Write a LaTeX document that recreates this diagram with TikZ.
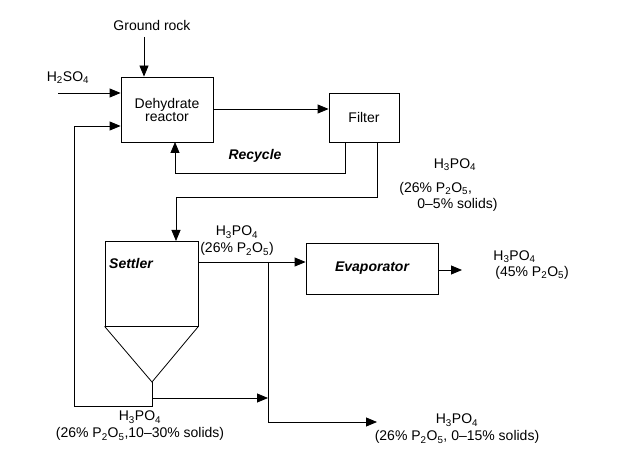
\documentclass[tikz,border=0pt]{standalone}
\usepackage{fontspec}
\setmainfont{Liberation Sans}
\usetikzlibrary{arrows.meta}
\begin{document}
\begin{tikzpicture}[x=1pt,y=-1pt,
    font=\fontsize{14}{13}\selectfont,
    line width=0.8pt,
    flow/.style={-{Triangle[length=11pt,width=9pt]}},
    unit/.style={draw,inner sep=0pt,align=center},
    tag/.style={align=center,inner sep=0pt,font=\fontsize{14}{17}\selectfont},
    bi/.style={font=\fontsize{14}{13}\selectfont\bfseries\itshape}]
  \useasboundingbox (0,0) rectangle (624,465);
  % units
  \node[unit,minimum width=92pt,minimum height=65pt] (reactor) at (167,109.5) {Dehydrate\\reactor};
  \node[unit,minimum width=70pt,minimum height=49pt] (filter) at (364,117.5) {Filter};
  \node[unit,minimum width=93pt,minimum height=85pt] (settler) at (151.5,283.5) {};
  \node[unit,minimum width=132pt,minimum height=51pt,bi] (evap) at (372,268.5) {Evaporator};
  \coordinate (apex) at (152,382);
  \draw (settler.south west) -- (apex) -- (settler.south east);
  \node[bi,inner sep=0pt] (settlertxt) at (131,263) {Settler};
  % feeds
  \node[tag] (rock) at (152,25) {Ground rock};
  \coordinate (rockin) at (144,37);
  \draw[flow] (rockin) -- (rockin |- reactor.north);
  \node[tag] (acid) at (68,78) {H\textsubscript{2}SO\textsubscript{4}};
  \coordinate (acidin) at (58,93);
  \draw[flow] (acidin) -- (acidin -| reactor.west);
  % reactor to filter and recycle
  \coordinate (rout) at (213,109);
  \draw[flow] (rout) -- (rout -| filter.west);
  \coordinate (rc) at (345,173);
  \draw[flow] (rc |- filter.south) -- (rc) -- (175,173) -- (175,142);
  \node[bi,inner sep=0pt] (recycle) at (255,156) {Recycle};
  \coordinate (fo) at (377,197);
  \draw[flow] (fo |- filter.south) -- (fo) -- (176,197) -- (176,241);
  \node[tag] (fp) at (455,165) {H\textsubscript{3}PO\textsubscript{4}};
  \node[tag,anchor=west] (fp2) at (399,189) {(26\% P\textsubscript{2}O\textsubscript{5},};
  \node[tag,anchor=west] (fp3) at (417,205) {0--5\% solids)};
  % settler overflow
  \coordinate (sout) at (198,262);
  \draw[flow] (sout) -- (sout -| evap.west);
  \node[tag] (sp) at (237,241) {H\textsubscript{3}PO\textsubscript{4}\\(26\% P\textsubscript{2}O\textsubscript{5})};
  \coordinate (branch) at (268,262);
  \coordinate (weakout) at (377,422);
  \draw[flow] (branch) -- (branch |- weakout) -- (weakout);
  \node[tag] (wp) at (457,429) {H\textsubscript{3}PO\textsubscript{4}\\(26\% P\textsubscript{2}O\textsubscript{5}, 0--15\% solids)};
  % evaporator product
  \coordinate (eout) at (438,270);
  \draw[flow] (eout) -- (462,270);
  \node[tag,anchor=west] (ep) at (493,257) {H\textsubscript{3}PO\textsubscript{4}};
  \node[tag,anchor=west] (ep2) at (495,273) {(45\% P\textsubscript{2}O\textsubscript{5})};
  % underflow
  \coordinate (stem) at (152,406);
  \coordinate (ret) at (74,126);
  \draw[flow] (apex) -- (stem) -| (ret) -- (ret -| reactor.west);
  \coordinate (tap) at (152,398);
  \draw[flow] (tap) -- (tap -| branch);
  \node[tag] (up) at (140,426) {H\textsubscript{3}PO\textsubscript{4}\\(26\% P\textsubscript{2}O\textsubscript{5},10--30\% solids)};
\end{tikzpicture}
\end{document}
